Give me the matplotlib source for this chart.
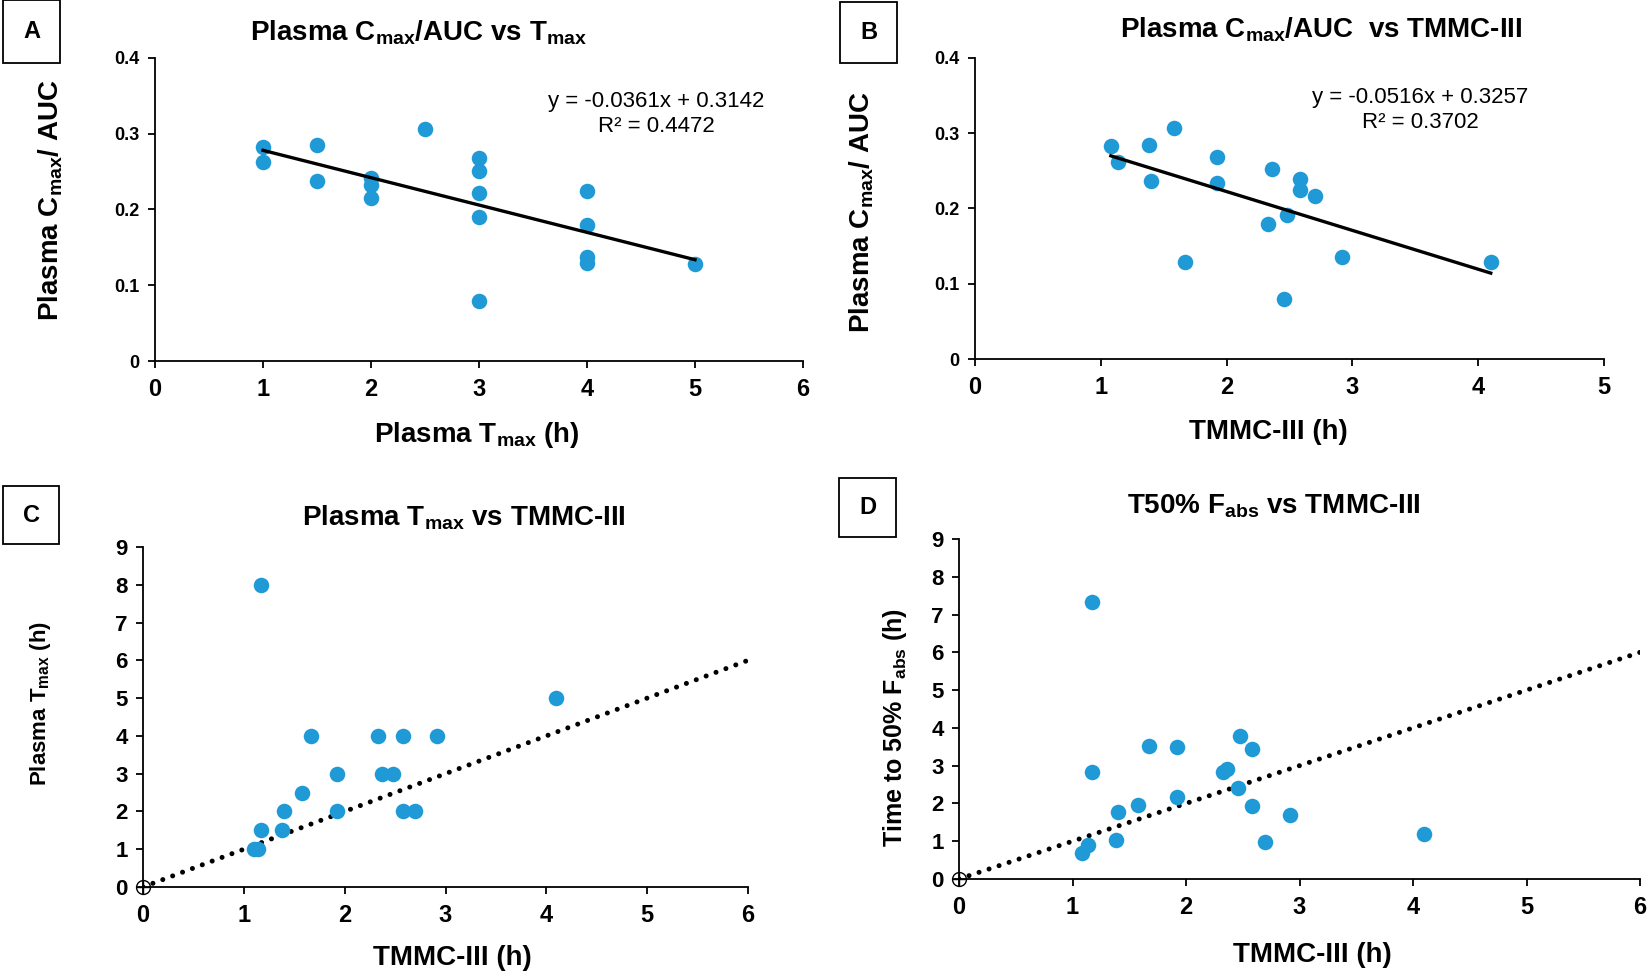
import numpy as np
import matplotlib
matplotlib.use("Agg")
import matplotlib.pyplot as plt
from matplotlib.patches import Rectangle

plt.rcParams['font.family'] = ['Liberation Sans', 'DejaVu Sans']

# ---- data ----
# A: plasma Tmax vs Cmax/AUC
a_tmax = [1, 1, 1.5, 1.5, 2, 2, 2, 2.5, 3, 3, 3, 3, 3, 4, 4, 4, 4, 5]
a_ratio = [0.283, 0.263, 0.285, 0.238, 0.242, 0.233, 0.215, 0.306,
           0.268, 0.251, 0.222, 0.190, 0.079, 0.224, 0.179, 0.137, 0.129, 0.128]
a_fit = (-0.0361, 0.3142)

# B: TMMC-III vs Cmax/AUC
b_tmmc = [1.08, 1.14, 1.38, 1.40, 1.58, 1.67, 1.92, 1.92, 2.36, 2.33,
          2.46, 2.48, 2.58, 2.58, 2.70, 2.92, 4.10]
b_ratio = [0.283, 0.262, 0.285, 0.236, 0.307, 0.129, 0.269, 0.234, 0.252, 0.179,
           0.080, 0.191, 0.239, 0.224, 0.216, 0.136, 0.129]
b_fit = (-0.0516, 0.3257)

# C: TMMC-III vs plasma Tmax
c_tmmc = [1.17, 1.10, 1.14, 1.17, 1.38, 1.40, 1.58, 1.67, 1.92, 1.92,
          2.33, 2.37, 2.48, 2.58, 2.58, 2.70, 2.92, 4.10]
c_tmax = [8, 1, 1, 1.5, 1.5, 2, 2.5, 4, 3, 2, 4, 3, 3, 4, 2, 2, 4, 5]

# D: TMMC-III vs time to 50% Fabs
d_tmmc = [1.17, 1.08, 1.14, 1.17, 1.38, 1.40, 1.58, 1.67, 1.92, 1.92,
          2.33, 2.36, 2.46, 2.48, 2.58, 2.58, 2.70, 2.92, 4.10]
d_t50 = [7.32, 0.68, 0.90, 2.83, 1.02, 1.77, 1.97, 3.52, 3.49, 2.17,
         2.83, 2.92, 2.40, 3.78, 3.43, 1.93, 0.97, 1.70, 1.19]

unity = [0, 6]

blue = '#1f9ad6'
W, H = 1650, 976

fig = plt.figure(figsize=(16.5, 9.76), dpi=100)


def px_axes(l, r, t, b):
    return fig.add_axes([l / W, 1 - b / H, (r - l) / W, (b - t) / H])


def style(ax, tick_size_x, tick_size_y):
    for s in ['top', 'right']:
        ax.spines[s].set_visible(False)
    for s in ['left', 'bottom']:
        ax.spines[s].set_linewidth(1.3)
    ax.tick_params(axis='x', direction='out', length=5, width=1.3, labelsize=tick_size_x, pad=7)
    ax.tick_params(axis='y', direction='out', length=5, width=1.3, labelsize=tick_size_y, pad=6)
    for lab in ax.get_xticklabels() + ax.get_yticklabels():
        lab.set_fontweight('bold')


def letter_box(l, r, t, b, txt):
    fig.patches.append(Rectangle((l / W, 1 - b / H), (r - l) / W, (b - t) / H,
                                 transform=fig.transFigure, fill=False, lw=1.3, ec='black'))
    fig.text((l + r) / 2 / W, 1 - (t + b) / 2 / H, txt, ha='center', va='center',
             fontsize=17, fontweight='bold')


def ftext(x, y, s, **kw):
    fig.text(x / W, 1 - y / H, s, ha='center', va='center', **kw)


def ylab(x, y, s, size):
    fig.text(x / W, 1 - y / H, s, rotation=90, ha='center', va='center',
             fontsize=size, fontweight='bold')


sub = lambda s: r'$_{\mathregular{' + s + '}}$'

# ---- A ----
ax = px_axes(155, 803, 58, 361)
ax.scatter(a_tmax, a_ratio, s=125, color=blue, zorder=3, lw=0)
xf = np.array([min(a_tmax), max(a_tmax)])
ax.plot(xf, a_fit[0] * xf + a_fit[1], color='black', lw=2.4, zorder=4)
ax.set_xlim(0, 6)
ax.set_ylim(0, 0.4)
ax.set_xticks(range(0, 7))
ax.set_yticks([0, 0.1, 0.2, 0.3, 0.4])
ax.set_yticklabels(['0', '0.1', '0.2', '0.3', '0.4'])
style(ax, 17, 13)
ftext(419, 33, 'Plasma C' + sub('max') + '/AUC vs T' + sub('max'), fontsize=20, fontweight='bold')
ftext(656, 102, 'y = -0.0361x + 0.3142', fontsize=16)
ftext(656, 127, 'R² = 0.4472', fontsize=16)
ftext(477, 435, 'Plasma T' + sub('max') + ' (h)', fontsize=20, fontweight='bold')
ylab(51, 200, 'Plasma C' + sub('max') + '/ AUC', 20)
letter_box(3, 60, 0, 63, 'A')

# ---- B ----
ax = px_axes(975, 1604, 58, 359)
ax.scatter(b_tmmc, b_ratio, s=125, color=blue, zorder=3, lw=0)
xf = np.array([min(b_tmmc), max(b_tmmc)])
ax.plot(xf, b_fit[0] * xf + b_fit[1], color='black', lw=2.4, zorder=4)
ax.set_xlim(0, 5)
ax.set_ylim(0, 0.4)
ax.set_xticks(range(0, 6))
ax.set_yticks([0, 0.1, 0.2, 0.3, 0.4])
ax.set_yticklabels(['0', '0.1', '0.2', '0.3', '0.4'])
style(ax, 17, 13)
ftext(1321, 30, 'Plasma C' + sub('max') + '/AUC  vs TMMC-III', fontsize=20, fontweight='bold')
ftext(1420, 98, 'y = -0.0516x + 0.3257', fontsize=16)
ftext(1420, 123, 'R² = 0.3702', fontsize=16)
ftext(1268, 432, 'TMMC-III (h)', fontsize=20, fontweight='bold')
ylab(862, 212, 'Plasma C' + sub('max') + '/ AUC', 20)
letter_box(840, 897, 2, 63, 'B')


def unity_panel(ax, xs, ys):
    ax.scatter(xs, ys, s=125, color=blue, zorder=3, lw=0)
    # line of unity
    ax.plot(unity, unity, color='black', lw=3.6, linestyle=(0, (0.01, 2.1)),
            dash_capstyle='round', zorder=2)
    ax.plot([0], [0], marker='o', ms=10, mfc='none', mec='black', mew=1.0, clip_on=False, zorder=5)
    ax.plot([0], [0], marker='+', ms=10, mec='black', mew=1.0, clip_on=False, zorder=5)
    ax.set_xlim(0, 6)
    ax.set_ylim(0, 9)
    ax.set_xticks(range(0, 7))
    ax.set_yticks(range(0, 10))
    style(ax, 17, 16)


# ---- C ----
ax = px_axes(143, 748, 547, 887)
unity_panel(ax, c_tmmc, c_tmax)
ftext(464, 518, 'Plasma T' + sub('max') + ' vs TMMC-III', fontsize=20, fontweight='bold')
ftext(452, 958, 'TMMC-III (h)', fontsize=20, fontweight='bold')
ylab(41, 703, 'Plasma T' + sub('max') + ' (h)', 16)
letter_box(3, 59, 486, 544, 'C')

# ---- D ----
ax = px_axes(959, 1640, 539, 879)
unity_panel(ax, d_tmmc, d_t50)
ftext(1274, 506, 'T50% F' + sub('abs') + ' vs TMMC-III', fontsize=20, fontweight='bold')
ftext(1312, 955, 'TMMC-III (h)', fontsize=20, fontweight='bold')
ylab(895, 728, 'Time to 50% F' + sub('abs') + ' (h)', 18)
letter_box(839, 896, 478, 537, 'D')

fig.savefig('out.png', dpi=100, facecolor='white')
